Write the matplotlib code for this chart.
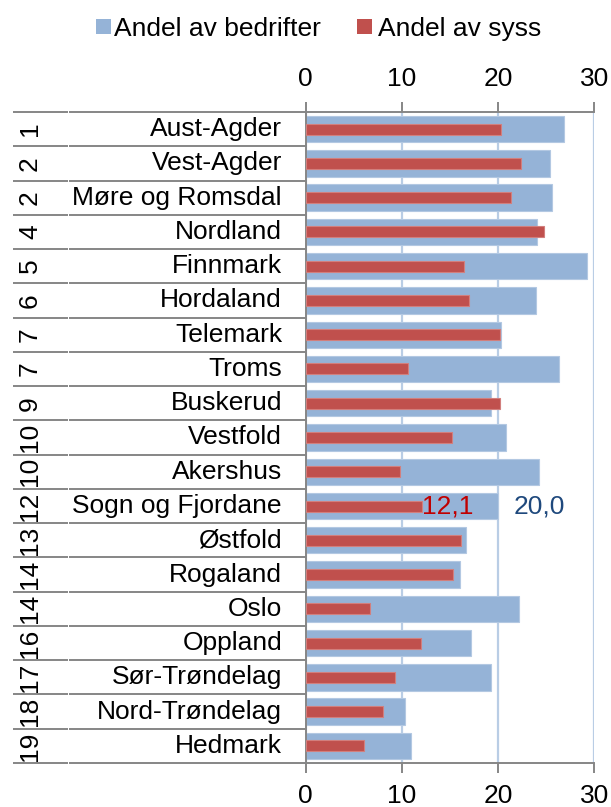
import matplotlib
matplotlib.use("Agg")
import matplotlib.pyplot as plt
from matplotlib.patches import Rectangle
from matplotlib.transforms import blended_transform_factory

plt.rcParams["font.family"] = ["Liberation Sans", "DejaVu Sans"]

# Data
counties = ["Aust-Agder", "Vest-Agder", "Møre og Romsdal", "Nordland", "Finnmark",
            "Hordaland", "Telemark", "Troms", "Buskerud", "Vestfold", "Akershus",
            "Sogn og Fjordane", "Østfold", "Rogaland", "Oslo", "Oppland",
            "Sør-Trøndelag", "Nord-Trøndelag", "Hedmark"]
ranks = ["1", "2", "2", "4", "5", "6", "7", "7", "9", "10", "10", "12", "13",
         "14", "14", "16", "17", "18", "19"]
andel_bedrifter = [26.8, 25.4, 25.6, 24.0, 29.2, 23.9, 20.3, 26.3, 19.3, 20.8,
                   24.2, 20.0, 16.7, 16.0, 22.2, 17.2, 19.3, 10.3, 10.9]
andel_syss = [20.3, 22.4, 21.3, 24.8, 16.5, 17.0, 20.2, 10.6, 20.2, 15.2,
              9.8, 12.1, 16.1, 15.3, 6.7, 12.0, 9.3, 8.0, 6.1]
series_names = ["Andel av bedrifter", "Andel av syss"]
x_ticks = [0, 10, 20, 30]
labelled_county = "Sogn og Fjordane"

BLUE = "#95b3d7"
RED = "#c0504d"
GRID = "#b9cde5"
AXIS_GREY = "#868686"
FS = 19

W, H = 611, 807
fig = plt.figure(figsize=(W / 100, H / 100), dpi=100)

# axes box in pixels
x0, x1 = 305.7, 594.3
y_top, y_bot = 112, 763
ax = fig.add_axes([x0 / W, 1 - y_bot / H, (x1 - x0) / W, (y_bot - y_top) / H])

n = len(counties)
pos = list(range(n))
ax.barh(pos, andel_bedrifter, height=0.77, color=BLUE, edgecolor="#b3c8e2",
        linewidth=0.8, zorder=2)
ax.barh(pos, andel_syss, height=0.32, color=RED, edgecolor="#d27f7d",
        linewidth=0.8, zorder=3)

ax.set_xlim(0, 30)
ax.set_ylim(n - 0.5, -0.5)
ax.set_xticks(x_ticks)
ax.set_xticklabels([str(t) for t in x_ticks])
ax.set_yticks([])
ax.grid(axis="x", color=GRID, linewidth=1.6, zorder=0)
ax.set_axisbelow(True)

for side in ("top", "bottom", "left"):
    ax.spines[side].set_color(AXIS_GREY)
    ax.spines[side].set_linewidth(1.4)
ax.spines["right"].set_visible(False)

ax.tick_params(axis="x", which="both", top=True, bottom=True, labeltop=True,
               labelbottom=True, direction="out", length=7, width=1.4,
               color=AXIS_GREY, labelsize=FS, pad=8)
for lbl in ax.get_xticklabels():
    lbl.set_color("black")

# category table on the left
tr = blended_transform_factory(fig.transFigure, ax.transData)
for k in range(n + 1):
    yb = k - 0.5
    ax.plot([13 / W, 67.5 / W], [yb, yb], color=AXIS_GREY, lw=1.4,
            transform=tr, clip_on=False, solid_capstyle="butt")
    ax.plot([68.5 / W, x0 / W], [yb, yb], color=AXIS_GREY, lw=1.4,
            transform=tr, clip_on=False, solid_capstyle="butt")

for i, (name, rk) in enumerate(zip(counties, ranks)):
    ax.text(282 / W, i, name, transform=tr, ha="right", va="center",
            fontsize=FS, color="black")
    ax.text(30 / W, i, rk, transform=tr, ha="center", va="center",
            rotation=90, fontsize=FS, color="black")

# value labels
idx = counties.index(labelled_county)
ax.annotate(f"{andel_syss[idx]:.1f}".replace(".", ","), (andel_syss[idx], idx),
            xytext=(0, 0), textcoords="offset points", ha="left", va="center",
            fontsize=FS, color="#c00000", zorder=5)
ax.annotate(f"{andel_bedrifter[idx]:.1f}".replace(".", ","),
            (andel_bedrifter[idx], idx), xytext=(11.5, 0),
            textcoords="offset points", ha="left", va="center",
            fontsize=FS, color="#1f497d", zorder=5)

# legend
def fy(px):
    return 1 - px / H

for color, x_sq, x_txt, name in [(BLUE, 95.5, 113.5, series_names[0]),
                                 (RED, 357, 377.5, series_names[1])]:
    fig.patches.append(Rectangle((x_sq / W, fy(33.5)), 15 / W, 14 / H,
                                 transform=fig.transFigure, facecolor=color,
                                 edgecolor="none"))
    fig.text(x_txt / W, fy(35.7), name, ha="left", va="baseline",
             fontsize=FS, color="black")

fig.savefig("out.png", dpi=100)
